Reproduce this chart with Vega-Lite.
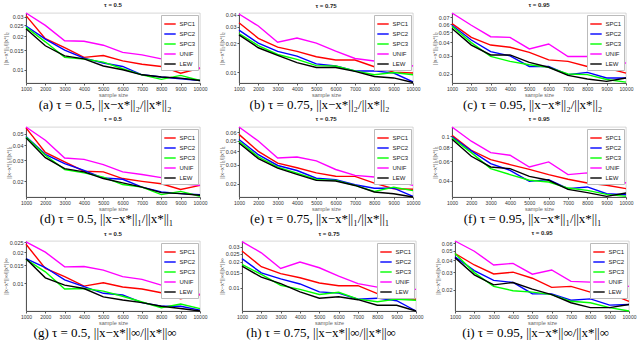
{
  "$schema": "https://vega.github.io/schema/vega-lite/v6.json",
  "padding": {"left": 2, "top": 1, "right": 9, "bottom": 1},
  "background": "white",
  "config": {
    "view": {"stroke": "#bbb", "strokeWidth": 0.6},
    "title": {"fontSize": 6, "fontWeight": "bold", "font": "Liberation Sans", "offset": 2, "color": "#222"},
    "axis": {"labelFontSize": 5.5, "titleFontSize": 5.5, "titleFontWeight": "normal", "tickSize": 2, "labelPadding": 1, "titlePadding": 1, "domainColor": "#555", "tickColor": "#555", "grid": false, "labelColor": "#333", "titleColor": "#666", "labelFont": "Liberation Sans", "titleFont": "Liberation Sans"},
    "axisX": {"labelOverlap": false, "labelFlush": false, "labelFontSize": 5, "format": "d"},
    "legend": {"orient": "top-right", "offset": 2, "padding": 2.5, "strokeColor": "#bbb", "fillColor": "white", "labelFontSize": 6, "labelFont": "Liberation Sans", "symbolType": "stroke", "symbolSize": 130, "symbolStrokeWidth": 2, "rowPadding": 0, "labelOffset": 3, "labelColor": "#222"},
    "concat": {"spacing": 10},
    "line": {"strokeWidth": 1.4}
  },
  "resolve": {"scale": {"color": "independent"}, "legend": {"color": "independent"}},
  "spacing": 3,
  "data": {"values": [
    {"p":"a","m":"SPC1","n":1000,"v":0.0306},{"p":"a","m":"SPC1","n":2000,"v":0.0190},{"p":"a","m":"SPC1","n":3000,"v":0.0158},{"p":"a","m":"SPC1","n":4000,"v":0.0129},{"p":"a","m":"SPC1","n":5000,"v":0.0134},{"p":"a","m":"SPC1","n":6000,"v":0.0120},{"p":"a","m":"SPC1","n":7000,"v":0.0112},{"p":"a","m":"SPC1","n":8000,"v":0.0107},{"p":"a","m":"SPC1","n":9000,"v":0.0093},{"p":"a","m":"SPC1","n":10000,"v":0.0103},
    {"p":"a","m":"SPC2","n":1000,"v":0.0247},{"p":"a","m":"SPC2","n":2000,"v":0.0188},{"p":"a","m":"SPC2","n":3000,"v":0.0150},{"p":"a","m":"SPC2","n":4000,"v":0.0127},{"p":"a","m":"SPC2","n":5000,"v":0.0115},{"p":"a","m":"SPC2","n":6000,"v":0.0107},{"p":"a","m":"SPC2","n":7000,"v":0.0090},{"p":"a","m":"SPC2","n":8000,"v":0.0086},{"p":"a","m":"SPC2","n":9000,"v":0.0083},{"p":"a","m":"SPC2","n":10000,"v":0.0080},
    {"p":"a","m":"SPC3","n":1000,"v":0.0241},{"p":"a","m":"SPC3","n":2000,"v":0.0178},{"p":"a","m":"SPC3","n":3000,"v":0.0129},{"p":"a","m":"SPC3","n":4000,"v":0.0125},{"p":"a","m":"SPC3","n":5000,"v":0.0117},{"p":"a","m":"SPC3","n":6000,"v":0.0102},{"p":"a","m":"SPC3","n":7000,"v":0.0090},{"p":"a","m":"SPC3","n":8000,"v":0.0082},{"p":"a","m":"SPC3","n":9000,"v":0.0089},{"p":"a","m":"SPC3","n":10000,"v":0.0080},
    {"p":"a","m":"UNIF","n":1000,"v":0.0323},{"p":"a","m":"UNIF","n":2000,"v":0.0250},{"p":"a","m":"UNIF","n":3000,"v":0.0182},{"p":"a","m":"UNIF","n":4000,"v":0.0180},{"p":"a","m":"UNIF","n":5000,"v":0.0166},{"p":"a","m":"UNIF","n":6000,"v":0.0143},{"p":"a","m":"UNIF","n":7000,"v":0.0136},{"p":"a","m":"UNIF","n":8000,"v":0.0125},{"p":"a","m":"UNIF","n":9000,"v":0.0108},{"p":"a","m":"UNIF","n":10000,"v":0.0103},
    {"p":"a","m":"LEW","n":1000,"v":0.0233},{"p":"a","m":"LEW","n":2000,"v":0.0164},{"p":"a","m":"LEW","n":3000,"v":0.0133},{"p":"a","m":"LEW","n":4000,"v":0.0125},{"p":"a","m":"LEW","n":5000,"v":0.0108},{"p":"a","m":"LEW","n":6000,"v":0.0100},{"p":"a","m":"LEW","n":7000,"v":0.0090},{"p":"a","m":"LEW","n":8000,"v":0.0086},{"p":"a","m":"LEW","n":9000,"v":0.0084},{"p":"a","m":"LEW","n":10000,"v":0.0080},

    {"p":"b","m":"SPC1","n":1000,"v":0.0329},{"p":"b","m":"SPC1","n":2000,"v":0.0226},{"p":"b","m":"SPC1","n":3000,"v":0.0183},{"p":"b","m":"SPC1","n":4000,"v":0.0165},{"p":"b","m":"SPC1","n":5000,"v":0.0145},{"p":"b","m":"SPC1","n":6000,"v":0.0134},{"p":"b","m":"SPC1","n":7000,"v":0.0134},{"p":"b","m":"SPC1","n":8000,"v":0.0114},{"p":"b","m":"SPC1","n":9000,"v":0.0100},{"p":"b","m":"SPC1","n":10000,"v":0.0098},
    {"p":"b","m":"SPC2","n":1000,"v":0.0275},{"p":"b","m":"SPC2","n":2000,"v":0.0201},{"p":"b","m":"SPC2","n":3000,"v":0.0165},{"p":"b","m":"SPC2","n":4000,"v":0.0147},{"p":"b","m":"SPC2","n":5000,"v":0.0122},{"p":"b","m":"SPC2","n":6000,"v":0.0116},{"p":"b","m":"SPC2","n":7000,"v":0.0103},{"p":"b","m":"SPC2","n":8000,"v":0.0103},{"p":"b","m":"SPC2","n":9000,"v":0.0098},{"p":"b","m":"SPC2","n":10000,"v":0.0079},
    {"p":"b","m":"SPC3","n":1000,"v":0.0254},{"p":"b","m":"SPC3","n":2000,"v":0.0190},{"p":"b","m":"SPC3","n":3000,"v":0.0153},{"p":"b","m":"SPC3","n":4000,"v":0.0136},{"p":"b","m":"SPC3","n":5000,"v":0.0117},{"p":"b","m":"SPC3","n":6000,"v":0.0116},{"p":"b","m":"SPC3","n":7000,"v":0.0103},{"p":"b","m":"SPC3","n":8000,"v":0.0094},{"p":"b","m":"SPC3","n":9000,"v":0.0099},{"p":"b","m":"SPC3","n":10000,"v":0.0094},
    {"p":"b","m":"UNIF","n":1000,"v":0.0406},{"p":"b","m":"UNIF","n":2000,"v":0.0304},{"p":"b","m":"UNIF","n":3000,"v":0.0206},{"p":"b","m":"UNIF","n":4000,"v":0.0228},{"p":"b","m":"UNIF","n":5000,"v":0.0201},{"p":"b","m":"UNIF","n":6000,"v":0.0166},{"p":"b","m":"UNIF","n":7000,"v":0.0139},{"p":"b","m":"UNIF","n":8000,"v":0.0131},{"p":"b","m":"UNIF","n":9000,"v":0.0126},{"p":"b","m":"UNIF","n":10000,"v":0.0116},
    {"p":"b","m":"LEW","n":1000,"v":0.0246},{"p":"b","m":"LEW","n":2000,"v":0.0180},{"p":"b","m":"LEW","n":3000,"v":0.0150},{"p":"b","m":"LEW","n":4000,"v":0.0126},{"p":"b","m":"LEW","n":5000,"v":0.0112},{"p":"b","m":"LEW","n":6000,"v":0.0112},{"p":"b","m":"LEW","n":7000,"v":0.0102},{"p":"b","m":"LEW","n":8000,"v":0.0090},{"p":"b","m":"LEW","n":9000,"v":0.0087},{"p":"b","m":"LEW","n":10000,"v":0.0078},

    {"p":"c","m":"SPC1","n":1000,"v":0.0606},{"p":"c","m":"SPC1","n":2000,"v":0.0447},{"p":"c","m":"SPC1","n":3000,"v":0.0378},{"p":"c","m":"SPC1","n":4000,"v":0.0360},{"p":"c","m":"SPC1","n":5000,"v":0.0322},{"p":"c","m":"SPC1","n":6000,"v":0.0273},{"p":"c","m":"SPC1","n":7000,"v":0.0264},{"p":"c","m":"SPC1","n":8000,"v":0.0236},{"p":"c","m":"SPC1","n":9000,"v":0.0228},{"p":"c","m":"SPC1","n":10000,"v":0.0204},
    {"p":"c","m":"SPC2","n":1000,"v":0.0584},{"p":"c","m":"SPC2","n":2000,"v":0.0422},{"p":"c","m":"SPC2","n":3000,"v":0.0327},{"p":"c","m":"SPC2","n":4000,"v":0.0298},{"p":"c","m":"SPC2","n":5000,"v":0.0236},{"p":"c","m":"SPC2","n":6000,"v":0.0236},{"p":"c","m":"SPC2","n":7000,"v":0.0197},{"p":"c","m":"SPC2","n":8000,"v":0.0207},{"p":"c","m":"SPC2","n":9000,"v":0.0183},{"p":"c","m":"SPC2","n":10000,"v":0.0183},
    {"p":"c","m":"SPC3","n":1000,"v":0.0572},{"p":"c","m":"SPC3","n":2000,"v":0.0399},{"p":"c","m":"SPC3","n":3000,"v":0.0294},{"p":"c","m":"SPC3","n":4000,"v":0.0264},{"p":"c","m":"SPC3","n":5000,"v":0.0245},{"p":"c","m":"SPC3","n":6000,"v":0.0231},{"p":"c","m":"SPC3","n":7000,"v":0.0200},{"p":"c","m":"SPC3","n":8000,"v":0.0197},{"p":"c","m":"SPC3","n":9000,"v":0.0177},{"p":"c","m":"SPC3","n":10000,"v":0.0167},
    {"p":"c","m":"UNIF","n":1000,"v":0.0765},{"p":"c","m":"UNIF","n":2000,"v":0.0584},{"p":"c","m":"UNIF","n":3000,"v":0.0454},{"p":"c","m":"UNIF","n":4000,"v":0.0447},{"p":"c","m":"UNIF","n":5000,"v":0.0347},{"p":"c","m":"UNIF","n":6000,"v":0.0387},{"p":"c","m":"UNIF","n":7000,"v":0.0294},{"p":"c","m":"UNIF","n":8000,"v":0.0294},{"p":"c","m":"UNIF","n":9000,"v":0.0273},{"p":"c","m":"UNIF","n":10000,"v":0.0254},
    {"p":"c","m":"LEW","n":1000,"v":0.0543},{"p":"c","m":"LEW","n":2000,"v":0.0378},{"p":"c","m":"LEW","n":3000,"v":0.0304},{"p":"c","m":"LEW","n":4000,"v":0.0304},{"p":"c","m":"LEW","n":5000,"v":0.0258},{"p":"c","m":"LEW","n":6000,"v":0.0232},{"p":"c","m":"LEW","n":7000,"v":0.0194},{"p":"c","m":"LEW","n":8000,"v":0.0179},{"p":"c","m":"LEW","n":9000,"v":0.0170},{"p":"c","m":"LEW","n":10000,"v":0.0183},

    {"p":"d","m":"SPC1","n":1000,"v":0.0558},{"p":"d","m":"SPC1","n":2000,"v":0.0348},{"p":"d","m":"SPC1","n":3000,"v":0.0290},{"p":"d","m":"SPC1","n":4000,"v":0.0243},{"p":"d","m":"SPC1","n":5000,"v":0.0240},{"p":"d","m":"SPC1","n":6000,"v":0.0211},{"p":"d","m":"SPC1","n":7000,"v":0.0200},{"p":"d","m":"SPC1","n":8000,"v":0.0191},{"p":"d","m":"SPC1","n":9000,"v":0.0171},{"p":"d","m":"SPC1","n":10000,"v":0.0185},
    {"p":"d","m":"SPC2","n":1000,"v":0.0474},{"p":"d","m":"SPC2","n":2000,"v":0.0336},{"p":"d","m":"SPC2","n":3000,"v":0.0281},{"p":"d","m":"SPC2","n":4000,"v":0.0247},{"p":"d","m":"SPC2","n":5000,"v":0.0213},{"p":"d","m":"SPC2","n":6000,"v":0.0208},{"p":"d","m":"SPC2","n":7000,"v":0.0179},{"p":"d","m":"SPC2","n":8000,"v":0.0163},{"p":"d","m":"SPC2","n":9000,"v":0.0158},{"p":"d","m":"SPC2","n":10000,"v":0.0155},
    {"p":"d","m":"SPC3","n":1000,"v":0.0468},{"p":"d","m":"SPC3","n":2000,"v":0.0330},{"p":"d","m":"SPC3","n":3000,"v":0.0251},{"p":"d","m":"SPC3","n":4000,"v":0.0235},{"p":"d","m":"SPC3","n":5000,"v":0.0217},{"p":"d","m":"SPC3","n":6000,"v":0.0188},{"p":"d","m":"SPC3","n":7000,"v":0.0179},{"p":"d","m":"SPC3","n":8000,"v":0.0155},{"p":"d","m":"SPC3","n":9000,"v":0.0165},{"p":"d","m":"SPC3","n":10000,"v":0.0150},
    {"p":"d","m":"UNIF","n":1000,"v":0.0568},{"p":"d","m":"UNIF","n":2000,"v":0.0440},{"p":"d","m":"UNIF","n":3000,"v":0.0313},{"p":"d","m":"UNIF","n":4000,"v":0.0305},{"p":"d","m":"UNIF","n":5000,"v":0.0276},{"p":"d","m":"UNIF","n":6000,"v":0.0240},{"p":"d","m":"UNIF","n":7000,"v":0.0228},{"p":"d","m":"UNIF","n":8000,"v":0.0215},{"p":"d","m":"UNIF","n":9000,"v":0.0191},{"p":"d","m":"UNIF","n":10000,"v":0.0185},
    {"p":"d","m":"LEW","n":1000,"v":0.0461},{"p":"d","m":"LEW","n":2000,"v":0.0315},{"p":"d","m":"LEW","n":3000,"v":0.0255},{"p":"d","m":"LEW","n":4000,"v":0.0240},{"p":"d","m":"LEW","n":5000,"v":0.0211},{"p":"d","m":"LEW","n":6000,"v":0.0194},{"p":"d","m":"LEW","n":7000,"v":0.0179},{"p":"d","m":"LEW","n":8000,"v":0.0161},{"p":"d","m":"LEW","n":9000,"v":0.0158},{"p":"d","m":"LEW","n":10000,"v":0.0153},

    {"p":"e","m":"SPC1","n":1000,"v":0.0571},{"p":"e","m":"SPC1","n":2000,"v":0.0398},{"p":"e","m":"SPC1","n":3000,"v":0.0310},{"p":"e","m":"SPC1","n":4000,"v":0.0281},{"p":"e","m":"SPC1","n":5000,"v":0.0252},{"p":"e","m":"SPC1","n":6000,"v":0.0235},{"p":"e","m":"SPC1","n":7000,"v":0.0234},{"p":"e","m":"SPC1","n":8000,"v":0.0203},{"p":"e","m":"SPC1","n":9000,"v":0.0180},{"p":"e","m":"SPC1","n":10000,"v":0.0178},
    {"p":"e","m":"SPC2","n":1000,"v":0.0513},{"p":"e","m":"SPC2","n":2000,"v":0.0371},{"p":"e","m":"SPC2","n":3000,"v":0.0295},{"p":"e","m":"SPC2","n":4000,"v":0.0265},{"p":"e","m":"SPC2","n":5000,"v":0.0225},{"p":"e","m":"SPC2","n":6000,"v":0.0218},{"p":"e","m":"SPC2","n":7000,"v":0.0196},{"p":"e","m":"SPC2","n":8000,"v":0.0182},{"p":"e","m":"SPC2","n":9000,"v":0.0182},{"p":"e","m":"SPC2","n":10000,"v":0.0153},
    {"p":"e","m":"SPC3","n":1000,"v":0.0493},{"p":"e","m":"SPC3","n":2000,"v":0.0354},{"p":"e","m":"SPC3","n":3000,"v":0.0285},{"p":"e","m":"SPC3","n":4000,"v":0.0251},{"p":"e","m":"SPC3","n":5000,"v":0.0219},{"p":"e","m":"SPC3","n":6000,"v":0.0215},{"p":"e","m":"SPC3","n":7000,"v":0.0193},{"p":"e","m":"SPC3","n":8000,"v":0.0170},{"p":"e","m":"SPC3","n":9000,"v":0.0186},{"p":"e","m":"SPC3","n":10000,"v":0.0173},
    {"p":"e","m":"UNIF","n":1000,"v":0.0668},{"p":"e","m":"UNIF","n":2000,"v":0.0496},{"p":"e","m":"UNIF","n":3000,"v":0.0346},{"p":"e","m":"UNIF","n":4000,"v":0.0353},{"p":"e","m":"UNIF","n":5000,"v":0.0325},{"p":"e","m":"UNIF","n":6000,"v":0.0271},{"p":"e","m":"UNIF","n":7000,"v":0.0239},{"p":"e","m":"UNIF","n":8000,"v":0.0231},{"p":"e","m":"UNIF","n":9000,"v":0.0215},{"p":"e","m":"UNIF","n":10000,"v":0.0193},
    {"p":"e","m":"LEW","n":1000,"v":0.0475},{"p":"e","m":"LEW","n":2000,"v":0.0341},{"p":"e","m":"LEW","n":3000,"v":0.0279},{"p":"e","m":"LEW","n":4000,"v":0.0244},{"p":"e","m":"LEW","n":5000,"v":0.0215},{"p":"e","m":"LEW","n":6000,"v":0.0212},{"p":"e","m":"LEW","n":7000,"v":0.0193},{"p":"e","m":"LEW","n":8000,"v":0.0168},{"p":"e","m":"LEW","n":9000,"v":0.0162},{"p":"e","m":"LEW","n":10000,"v":0.0151},

    {"p":"f","m":"SPC1","n":1000,"v":0.102},{"p":"f","m":"SPC1","n":2000,"v":0.0751},{"p":"f","m":"SPC1","n":3000,"v":0.0620},{"p":"f","m":"SPC1","n":4000,"v":0.0560},{"p":"f","m":"SPC1","n":5000,"v":0.0508},{"p":"f","m":"SPC1","n":6000,"v":0.0456},{"p":"f","m":"SPC1","n":7000,"v":0.0414},{"p":"f","m":"SPC1","n":8000,"v":0.0384},{"p":"f","m":"SPC1","n":9000,"v":0.0366},{"p":"f","m":"SPC1","n":10000,"v":0.0342},
    {"p":"f","m":"SPC2","n":1000,"v":0.0988},{"p":"f","m":"SPC2","n":2000,"v":0.0741},{"p":"f","m":"SPC2","n":3000,"v":0.0571},{"p":"f","m":"SPC2","n":4000,"v":0.0498},{"p":"f","m":"SPC2","n":5000,"v":0.0397},{"p":"f","m":"SPC2","n":6000,"v":0.0411},{"p":"f","m":"SPC2","n":7000,"v":0.0342},{"p":"f","m":"SPC2","n":8000,"v":0.0354},{"p":"f","m":"SPC2","n":9000,"v":0.0308},{"p":"f","m":"SPC2","n":10000,"v":0.0302},
    {"p":"f","m":"SPC3","n":1000,"v":0.0968},{"p":"f","m":"SPC3","n":2000,"v":0.0716},{"p":"f","m":"SPC3","n":3000,"v":0.0515},{"p":"f","m":"SPC3","n":4000,"v":0.0456},{"p":"f","m":"SPC3","n":5000,"v":0.0406},{"p":"f","m":"SPC3","n":6000,"v":0.0392},{"p":"f","m":"SPC3","n":7000,"v":0.0346},{"p":"f","m":"SPC3","n":8000,"v":0.0330},{"p":"f","m":"SPC3","n":9000,"v":0.0304},{"p":"f","m":"SPC3","n":10000,"v":0.0292},
    {"p":"f","m":"UNIF","n":1000,"v":0.121},{"p":"f","m":"UNIF","n":2000,"v":0.0904},{"p":"f","m":"UNIF","n":3000,"v":0.0716},{"p":"f","m":"UNIF","n":4000,"v":0.0678},{"p":"f","m":"UNIF","n":5000,"v":0.0533},{"p":"f","m":"UNIF","n":6000,"v":0.0591},{"p":"f","m":"UNIF","n":7000,"v":0.0456},{"p":"f","m":"UNIF","n":8000,"v":0.0472},{"p":"f","m":"UNIF","n":9000,"v":0.0426},{"p":"f","m":"UNIF","n":10000,"v":0.0384},
    {"p":"f","m":"LEW","n":1000,"v":0.0942},{"p":"f","m":"LEW","n":2000,"v":0.0664},{"p":"f","m":"LEW","n":3000,"v":0.0533},{"p":"f","m":"LEW","n":4000,"v":0.0515},{"p":"f","m":"LEW","n":5000,"v":0.0440},{"p":"f","m":"LEW","n":6000,"v":0.0406},{"p":"f","m":"LEW","n":7000,"v":0.0337},{"p":"f","m":"LEW","n":8000,"v":0.0315},{"p":"f","m":"LEW","n":9000,"v":0.0292},{"p":"f","m":"LEW","n":10000,"v":0.0313},

    {"p":"g","m":"SPC1","n":1000,"v":0.0238},{"p":"g","m":"SPC1","n":2000,"v":0.0139},{"p":"g","m":"SPC1","n":3000,"v":0.0116},{"p":"g","m":"SPC1","n":4000,"v":0.0094},{"p":"g","m":"SPC1","n":5000,"v":0.0101},{"p":"g","m":"SPC1","n":6000,"v":0.0092},{"p":"g","m":"SPC1","n":7000,"v":0.0088},{"p":"g","m":"SPC1","n":8000,"v":0.0081},{"p":"g","m":"SPC1","n":9000,"v":0.0071},{"p":"g","m":"SPC1","n":10000,"v":0.0078},
    {"p":"g","m":"SPC2","n":1000,"v":0.0173},{"p":"g","m":"SPC2","n":2000,"v":0.0142},{"p":"g","m":"SPC2","n":3000,"v":0.0108},{"p":"g","m":"SPC2","n":4000,"v":0.0093},{"p":"g","m":"SPC2","n":5000,"v":0.0080},{"p":"g","m":"SPC2","n":6000,"v":0.0077},{"p":"g","m":"SPC2","n":7000,"v":0.0065},{"p":"g","m":"SPC2","n":8000,"v":0.0060},{"p":"g","m":"SPC2","n":9000,"v":0.0060},{"p":"g","m":"SPC2","n":10000,"v":0.0055},
    {"p":"g","m":"SPC3","n":1000,"v":0.0170},{"p":"g","m":"SPC3","n":2000,"v":0.0129},{"p":"g","m":"SPC3","n":3000,"v":0.0088},{"p":"g","m":"SPC3","n":4000,"v":0.0089},{"p":"g","m":"SPC3","n":5000,"v":0.0084},{"p":"g","m":"SPC3","n":6000,"v":0.0075},{"p":"g","m":"SPC3","n":7000,"v":0.0066},{"p":"g","m":"SPC3","n":8000,"v":0.0058},{"p":"g","m":"SPC3","n":9000,"v":0.0063},{"p":"g","m":"SPC3","n":10000,"v":0.0057},
    {"p":"g","m":"UNIF","n":1000,"v":0.0251},{"p":"g","m":"UNIF","n":2000,"v":0.0200},{"p":"g","m":"UNIF","n":3000,"v":0.0144},{"p":"g","m":"UNIF","n":4000,"v":0.0145},{"p":"g","m":"UNIF","n":5000,"v":0.0134},{"p":"g","m":"UNIF","n":6000,"v":0.0116},{"p":"g","m":"UNIF","n":7000,"v":0.0109},{"p":"g","m":"UNIF","n":8000,"v":0.0096},{"p":"g","m":"UNIF","n":9000,"v":0.0080},{"p":"g","m":"UNIF","n":10000,"v":0.0078},
    {"p":"g","m":"LEW","n":1000,"v":0.0173},{"p":"g","m":"LEW","n":2000,"v":0.0113},{"p":"g","m":"LEW","n":3000,"v":0.0096},{"p":"g","m":"LEW","n":4000,"v":0.0089},{"p":"g","m":"LEW","n":5000,"v":0.0074},{"p":"g","m":"LEW","n":6000,"v":0.0069},{"p":"g","m":"LEW","n":7000,"v":0.0065},{"p":"g","m":"LEW","n":8000,"v":0.0060},{"p":"g","m":"LEW","n":9000,"v":0.0057},{"p":"g","m":"LEW","n":10000,"v":0.0054},

    {"p":"h","m":"SPC1","n":1000,"v":0.0267},{"p":"h","m":"SPC1","n":2000,"v":0.0176},{"p":"h","m":"SPC1","n":3000,"v":0.0146},{"p":"h","m":"SPC1","n":4000,"v":0.0131},{"p":"h","m":"SPC1","n":5000,"v":0.0114},{"p":"h","m":"SPC1","n":6000,"v":0.0106},{"p":"h","m":"SPC1","n":7000,"v":0.0106},{"p":"h","m":"SPC1","n":8000,"v":0.0086},{"p":"h","m":"SPC1","n":9000,"v":0.0075},{"p":"h","m":"SPC1","n":10000,"v":0.0074},
    {"p":"h","m":"SPC2","n":1000,"v":0.0218},{"p":"h","m":"SPC2","n":2000,"v":0.0149},{"p":"h","m":"SPC2","n":3000,"v":0.0127},{"p":"h","m":"SPC2","n":4000,"v":0.0111},{"p":"h","m":"SPC2","n":5000,"v":0.0090},{"p":"h","m":"SPC2","n":6000,"v":0.0087},{"p":"h","m":"SPC2","n":7000,"v":0.0074},{"p":"h","m":"SPC2","n":8000,"v":0.0076},{"p":"h","m":"SPC2","n":9000,"v":0.0071},{"p":"h","m":"SPC2","n":10000,"v":0.0054},
    {"p":"h","m":"SPC3","n":1000,"v":0.0187},{"p":"h","m":"SPC3","n":2000,"v":0.0143},{"p":"h","m":"SPC3","n":3000,"v":0.0107},{"p":"h","m":"SPC3","n":4000,"v":0.0096},{"p":"h","m":"SPC3","n":5000,"v":0.0084},{"p":"h","m":"SPC3","n":6000,"v":0.0089},{"p":"h","m":"SPC3","n":7000,"v":0.0074},{"p":"h","m":"SPC3","n":8000,"v":0.0069},{"p":"h","m":"SPC3","n":9000,"v":0.0074},{"p":"h","m":"SPC3","n":10000,"v":0.0072},
    {"p":"h","m":"UNIF","n":1000,"v":0.0343},{"p":"h","m":"UNIF","n":2000,"v":0.0255},{"p":"h","m":"UNIF","n":3000,"v":0.0168},{"p":"h","m":"UNIF","n":4000,"v":0.0199},{"p":"h","m":"UNIF","n":5000,"v":0.0171},{"p":"h","m":"UNIF","n":6000,"v":0.0137},{"p":"h","m":"UNIF","n":7000,"v":0.0112},{"p":"h","m":"UNIF","n":8000,"v":0.0102},{"p":"h","m":"UNIF","n":9000,"v":0.0098},{"p":"h","m":"UNIF","n":10000,"v":0.0096},
    {"p":"h","m":"LEW","n":1000,"v":0.0179},{"p":"h","m":"LEW","n":2000,"v":0.0133},{"p":"h","m":"LEW","n":3000,"v":0.0112},{"p":"h","m":"LEW","n":4000,"v":0.0090},{"p":"h","m":"LEW","n":5000,"v":0.0076},{"p":"h","m":"LEW","n":6000,"v":0.0079},{"p":"h","m":"LEW","n":7000,"v":0.0073},{"p":"h","m":"LEW","n":8000,"v":0.0063},{"p":"h","m":"LEW","n":9000,"v":0.0063},{"p":"h","m":"LEW","n":10000,"v":0.0054},

    {"p":"i","m":"SPC1","n":1000,"v":0.0469},{"p":"i","m":"SPC1","n":2000,"v":0.0358},{"p":"i","m":"SPC1","n":3000,"v":0.0290},{"p":"i","m":"SPC1","n":4000,"v":0.0302},{"p":"i","m":"SPC1","n":5000,"v":0.0262},{"p":"i","m":"SPC1","n":6000,"v":0.0211},{"p":"i","m":"SPC1","n":7000,"v":0.0216},{"p":"i","m":"SPC1","n":8000,"v":0.0189},{"p":"i","m":"SPC1","n":9000,"v":0.0182},{"p":"i","m":"SPC1","n":10000,"v":0.0152},
    {"p":"i","m":"SPC2","n":1000,"v":0.0434},{"p":"i","m":"SPC2","n":2000,"v":0.0314},{"p":"i","m":"SPC2","n":3000,"v":0.0249},{"p":"i","m":"SPC2","n":4000,"v":0.0237},{"p":"i","m":"SPC2","n":5000,"v":0.0182},{"p":"i","m":"SPC2","n":6000,"v":0.0181},{"p":"i","m":"SPC2","n":7000,"v":0.0156},{"p":"i","m":"SPC2","n":8000,"v":0.0161},{"p":"i","m":"SPC2","n":9000,"v":0.0139},{"p":"i","m":"SPC2","n":10000,"v":0.0141},
    {"p":"i","m":"SPC3","n":1000,"v":0.0469},{"p":"i","m":"SPC3","n":2000,"v":0.0299},{"p":"i","m":"SPC3","n":3000,"v":0.0216},{"p":"i","m":"SPC3","n":4000,"v":0.0195},{"p":"i","m":"SPC3","n":5000,"v":0.0189},{"p":"i","m":"SPC3","n":6000,"v":0.0178},{"p":"i","m":"SPC3","n":7000,"v":0.0152},{"p":"i","m":"SPC3","n":8000,"v":0.0147},{"p":"i","m":"SPC3","n":9000,"v":0.0131},{"p":"i","m":"SPC3","n":10000,"v":0.0121},
    {"p":"i","m":"UNIF","n":1000,"v":0.0630},{"p":"i","m":"UNIF","n":2000,"v":0.0495},{"p":"i","m":"UNIF","n":3000,"v":0.0358},{"p":"i","m":"UNIF","n":4000,"v":0.0372},{"p":"i","m":"UNIF","n":5000,"v":0.0288},{"p":"i","m":"UNIF","n":6000,"v":0.0318},{"p":"i","m":"UNIF","n":7000,"v":0.0243},{"p":"i","m":"UNIF","n":8000,"v":0.0239},{"p":"i","m":"UNIF","n":9000,"v":0.0228},{"p":"i","m":"UNIF","n":10000,"v":0.0216},
    {"p":"i","m":"LEW","n":1000,"v":0.0424},{"p":"i","m":"LEW","n":2000,"v":0.0284},{"p":"i","m":"LEW","n":3000,"v":0.0224},{"p":"i","m":"LEW","n":4000,"v":0.0237},{"p":"i","m":"LEW","n":5000,"v":0.0203},{"p":"i","m":"LEW","n":6000,"v":0.0178},{"p":"i","m":"LEW","n":7000,"v":0.0147},{"p":"i","m":"LEW","n":8000,"v":0.0131},{"p":"i","m":"LEW","n":9000,"v":0.0131},{"p":"i","m":"LEW","n":10000,"v":0.0141}
  ]},
  "vconcat": [
    {"hconcat": [
      {"title": {"text": "(a) τ = 0.5, ||x−x*||₂/||x*||₂", "orient": "bottom", "anchor": "middle", "font": "Liberation Serif", "fontSize": 13, "fontWeight": "normal", "offset": 1, "color": "black"},
       "resolve": {"scale": {"color": "independent"}, "legend": {"color": "independent"}},
       "vconcat": [{"title": "τ = 0.5", "width": 174, "height": 70,
        "transform": [{"filter": "datum.p == 'a'"}],
        "mark": {"type": "line"},
        "encoding": {
          "x": {"field": "n", "type": "quantitative", "scale": {"domain": [1000, 10000], "nice": false}, "axis": {"values": [1000,2000,3000,4000,5000,6000,7000,8000,9000,10000], "title": "sample size"}},
          "y": {"field": "v", "type": "quantitative", "scale": {"type": "log", "domain": [0.0076, 0.0323], "nice": false}, "axis": {"values": [0.01,0.015,0.02,0.025,0.03], "format": "~g", "title": "||x−x*||₂/||x*||₂"}},
          "color": {"field": "m", "type": "nominal", "scale": {"domain": ["SPC1","SPC2","SPC3","UNIF","LEW"], "range": ["#ff0000","#0000ff","#00ff00","#ff00ff","#000000"]}, "legend": {"title": null}}
        }}]},
      {"title": {"text": "(b) τ = 0.75, ||x−x*||₂/||x*||₂", "orient": "bottom", "anchor": "middle", "font": "Liberation Serif", "fontSize": 13, "fontWeight": "normal", "offset": 1, "color": "black"},
       "resolve": {"scale": {"color": "independent"}, "legend": {"color": "independent"}},
       "vconcat": [{"title": "τ = 0.75", "width": 174, "height": 70,
        "transform": [{"filter": "datum.p == 'b'"}],
        "mark": {"type": "line"},
        "encoding": {
          "x": {"field": "n", "type": "quantitative", "scale": {"domain": [1000, 10000], "nice": false}, "axis": {"values": [1000,2000,3000,4000,5000,6000,7000,8000,9000,10000], "title": "sample size"}},
          "y": {"field": "v", "type": "quantitative", "scale": {"type": "log", "domain": [0.0077, 0.0416], "nice": false}, "axis": {"values": [0.01,0.02,0.03,0.04], "format": "~g", "title": "||x−x*||₂/||x*||₂"}},
          "color": {"field": "m", "type": "nominal", "scale": {"domain": ["SPC1","SPC2","SPC3","UNIF","LEW"], "range": ["#ff0000","#0000ff","#00ff00","#ff00ff","#000000"]}, "legend": {"title": null}}
        }}]},
      {"title": {"text": "(c) τ = 0.95, ||x−x*||₂/||x*||₂", "orient": "bottom", "anchor": "middle", "font": "Liberation Serif", "fontSize": 13, "fontWeight": "normal", "offset": 1, "color": "black"},
       "resolve": {"scale": {"color": "independent"}, "legend": {"color": "independent"}},
       "vconcat": [{"title": "τ = 0.95", "width": 174, "height": 70,
        "transform": [{"filter": "datum.p == 'c'"}],
        "mark": {"type": "line"},
        "encoding": {
          "x": {"field": "n", "type": "quantitative", "scale": {"domain": [1000, 10000], "nice": false}, "axis": {"values": [1000,2000,3000,4000,5000,6000,7000,8000,9000,10000], "title": "sample size"}},
          "y": {"field": "v", "type": "quantitative", "scale": {"type": "log", "domain": [0.0164, 0.0765], "nice": false}, "axis": {"values": [0.02,0.03,0.04,0.05,0.06,0.07], "format": "~g", "title": "||x−x*||₂/||x*||₂"}},
          "color": {"field": "m", "type": "nominal", "scale": {"domain": ["SPC1","SPC2","SPC3","UNIF","LEW"], "range": ["#ff0000","#0000ff","#00ff00","#ff00ff","#000000"]}, "legend": {"title": null}}
        }}]}
    ], "resolve": {"scale": {"color": "independent"}, "legend": {"color": "independent"}}},
    {"hconcat": [
      {"title": {"text": "(d) τ = 0.5, ||x−x*||₁/||x*||₁", "orient": "bottom", "anchor": "middle", "font": "Liberation Serif", "fontSize": 13, "fontWeight": "normal", "offset": 1, "color": "black"},
       "resolve": {"scale": {"color": "independent"}, "legend": {"color": "independent"}},
       "vconcat": [{"title": "τ = 0.5", "width": 174, "height": 70,
        "transform": [{"filter": "datum.p == 'd'"}],
        "mark": {"type": "line"},
        "encoding": {
          "x": {"field": "n", "type": "quantitative", "scale": {"domain": [1000, 10000], "nice": false}, "axis": {"values": [1000,2000,3000,4000,5000,6000,7000,8000,9000,10000], "title": "sample size"}},
          "y": {"field": "v", "type": "quantitative", "scale": {"type": "log", "domain": [0.0148, 0.0568], "nice": false}, "axis": {"values": [0.02,0.03,0.04,0.05], "format": "~g", "title": "||x−x*||₁/||x*||₁"}},
          "color": {"field": "m", "type": "nominal", "scale": {"domain": ["SPC1","SPC2","SPC3","UNIF","LEW"], "range": ["#ff0000","#0000ff","#00ff00","#ff00ff","#000000"]}, "legend": {"title": null}}
        }}]},
      {"title": {"text": "(e) τ = 0.75, ||x−x*||₁/||x*||₁", "orient": "bottom", "anchor": "middle", "font": "Liberation Serif", "fontSize": 13, "fontWeight": "normal", "offset": 1, "color": "black"},
       "resolve": {"scale": {"color": "independent"}, "legend": {"color": "independent"}},
       "vconcat": [{"title": "τ = 0.75", "width": 174, "height": 70,
        "transform": [{"filter": "datum.p == 'e'"}],
        "mark": {"type": "line"},
        "encoding": {
          "x": {"field": "n", "type": "quantitative", "scale": {"domain": [1000, 10000], "nice": false}, "axis": {"values": [1000,2000,3000,4000,5000,6000,7000,8000,9000,10000], "title": "sample size"}},
          "y": {"field": "v", "type": "quantitative", "scale": {"type": "log", "domain": [0.0151, 0.0668], "nice": false}, "axis": {"values": [0.02,0.03,0.04,0.05,0.06], "format": "~g", "title": "||x−x*||₁/||x*||₁"}},
          "color": {"field": "m", "type": "nominal", "scale": {"domain": ["SPC1","SPC2","SPC3","UNIF","LEW"], "range": ["#ff0000","#0000ff","#00ff00","#ff00ff","#000000"]}, "legend": {"title": null}}
        }}]},
      {"title": {"text": "(f) τ = 0.95, ||x−x*||₁/||x*||₁", "orient": "bottom", "anchor": "middle", "font": "Liberation Serif", "fontSize": 13, "fontWeight": "normal", "offset": 1, "color": "black"},
       "resolve": {"scale": {"color": "independent"}, "legend": {"color": "independent"}},
       "vconcat": [{"title": "τ = 0.95", "width": 174, "height": 70,
        "transform": [{"filter": "datum.p == 'f'"}],
        "mark": {"type": "line"},
        "encoding": {
          "x": {"field": "n", "type": "quantitative", "scale": {"domain": [1000, 10000], "nice": false}, "axis": {"values": [1000,2000,3000,4000,5000,6000,7000,8000,9000,10000], "title": "sample size"}},
          "y": {"field": "v", "type": "quantitative", "scale": {"type": "log", "domain": [0.0288, 0.121], "nice": false}, "axis": {"values": [0.04,0.06,0.08,0.1], "format": "~g", "title": "||x−x*||₁/||x*||₁"}},
          "color": {"field": "m", "type": "nominal", "scale": {"domain": ["SPC1","SPC2","SPC3","UNIF","LEW"], "range": ["#ff0000","#0000ff","#00ff00","#ff00ff","#000000"]}, "legend": {"title": null}}
        }}]}
    ], "resolve": {"scale": {"color": "independent"}, "legend": {"color": "independent"}}},
    {"hconcat": [
      {"title": {"text": "(g) τ = 0.5, ||x−x*||∞/||x*||∞", "orient": "bottom", "anchor": "middle", "font": "Liberation Serif", "fontSize": 13, "fontWeight": "normal", "offset": 1, "color": "black"},
       "resolve": {"scale": {"color": "independent"}, "legend": {"color": "independent"}},
       "vconcat": [{"title": "τ = 0.5", "width": 174, "height": 70,
        "transform": [{"filter": "datum.p == 'g'"}],
        "mark": {"type": "line"},
        "encoding": {
          "x": {"field": "n", "type": "quantitative", "scale": {"domain": [1000, 10000], "nice": false}, "axis": {"values": [1000,2000,3000,4000,5000,6000,7000,8000,9000,10000], "title": "sample size"}},
          "y": {"field": "v", "type": "quantitative", "scale": {"type": "log", "domain": [0.0054, 0.0256], "nice": false}, "axis": {"values": [0.01,0.015,0.02,0.025], "format": "~g", "title": "||x−x*||∞/||x*||∞"}},
          "color": {"field": "m", "type": "nominal", "scale": {"domain": ["SPC1","SPC2","SPC3","UNIF","LEW"], "range": ["#ff0000","#0000ff","#00ff00","#ff00ff","#000000"]}, "legend": {"title": null}}
        }}]},
      {"title": {"text": "(h) τ = 0.75, ||x−x*||∞/||x*||∞", "orient": "bottom", "anchor": "middle", "font": "Liberation Serif", "fontSize": 13, "fontWeight": "normal", "offset": 1, "color": "black"},
       "resolve": {"scale": {"color": "independent"}, "legend": {"color": "independent"}},
       "vconcat": [{"title": "τ = 0.75", "width": 174, "height": 70,
        "transform": [{"filter": "datum.p == 'h'"}],
        "mark": {"type": "line"},
        "encoding": {
          "x": {"field": "n", "type": "quantitative", "scale": {"domain": [1000, 10000], "nice": false}, "axis": {"values": [1000,2000,3000,4000,5000,6000,7000,8000,9000,10000], "title": "sample size"}},
          "y": {"field": "v", "type": "quantitative", "scale": {"type": "log", "domain": [0.0054, 0.0349], "nice": false}, "axis": {"values": [0.01,0.015,0.02,0.025,0.03], "format": "~g", "title": "||x−x*||∞/||x*||∞"}},
          "color": {"field": "m", "type": "nominal", "scale": {"domain": ["SPC1","SPC2","SPC3","UNIF","LEW"], "range": ["#ff0000","#0000ff","#00ff00","#ff00ff","#000000"]}, "legend": {"title": null}}
        }}]},
      {"title": {"text": "(i) τ = 0.95, ||x−x*||∞/||x*||∞", "orient": "bottom", "anchor": "middle", "font": "Liberation Serif", "fontSize": 13, "fontWeight": "normal", "offset": 1, "color": "black"},
       "resolve": {"scale": {"color": "independent"}, "legend": {"color": "independent"}},
       "vconcat": [{"title": "τ = 0.95", "width": 174, "height": 70,
        "transform": [{"filter": "datum.p == 'i'"}],
        "mark": {"type": "line"},
        "encoding": {
          "x": {"field": "n", "type": "quantitative", "scale": {"domain": [1000, 10000], "nice": false}, "axis": {"values": [1000,2000,3000,4000,5000,6000,7000,8000,9000,10000], "title": "sample size"}},
          "y": {"field": "v", "type": "quantitative", "scale": {"type": "log", "domain": [0.0121, 0.063], "nice": false}, "axis": {"values": [0.02,0.03,0.04,0.05,0.06], "format": "~g", "title": "||x−x*||∞/||x*||∞"}},
          "color": {"field": "m", "type": "nominal", "scale": {"domain": ["SPC1","SPC2","SPC3","UNIF","LEW"], "range": ["#ff0000","#0000ff","#00ff00","#ff00ff","#000000"]}, "legend": {"title": null}}
        }}]}
    ], "resolve": {"scale": {"color": "independent"}, "legend": {"color": "independent"}}}
  ]
}
